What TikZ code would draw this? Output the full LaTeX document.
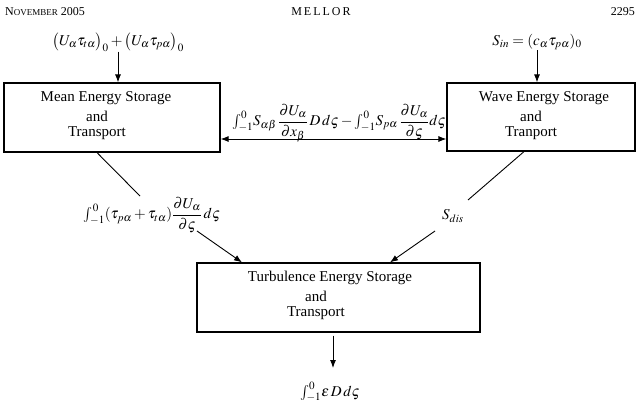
\documentclass[tikz,border=0pt]{standalone}
\usepackage{mathptmx}
\usepackage{fontspec}
\setmainfont{Liberation Serif}
\usetikzlibrary{arrows.meta}
\tikzset{
  box/.style={draw, line width=1.2pt, rectangle, inner sep=0pt},
  txt/.style={inner sep=0pt, font=\fontsize{15}{17}\selectfont},
  hdr/.style={inner sep=0pt, font=\fontsize{12}{14}\selectfont},
  mth/.style={inner sep=0pt, font=\fontsize{15}{17}\selectfont},
  conn/.style={line width=0.9pt},
  arr/.style={line width=0.9pt, -{Latex[length=8pt,width=6pt]}},
  darr/.style={line width=0.9pt, {Latex[length=8pt,width=6pt]}-{Latex[length=8pt,width=6pt]}}
}
\begin{document}
\begin{tikzpicture}[x=1pt,y=-1pt]
\useasboundingbox (0,0) rectangle (638,407);
% header
\node[hdr, anchor=west] (hl) at (5,12) {N{\fontsize{9}{10}\selectfont OVEMBER} 2005};
\node[hdr] (hc) at (321,12) {M\,E\,L\,L\,O\,R};
\node[hdr, anchor=east] (hr) at (635,12) {2295};
% boxes
\node[box, minimum width=216pt, minimum height=69pt] (mean) at (112,117.5) {};
\node[box, minimum width=188pt, minimum height=68pt] (wave) at (541,117) {};
\node[box, minimum width=283pt, minimum height=69pt] (turb) at (338.5,297.5) {};
% box texts
\node[txt] (m1) at (106,98) {Mean Energy Storage};
\node[txt] (m2) at (97,116) {and};
\node[txt] (m3) at (97,133) {Transport};
\node[txt] (w1) at (544,98) {Wave Energy Storage};
\node[txt] (w2) at (531,116) {and};
\node[txt] (w3) at (531,133) {Tranport};
\node[txt] (t1) at (330,278) {Turbulence Energy Storage};
\node[txt] (t2) at (316,296) {and};
\node[txt] (t3) at (316,313) {Transport};
% formulas
\node[mth] (f1) at (118,42) {$\bigl(U_\alpha\tau_{t\alpha}\bigr)_0+\bigl(U_\alpha\tau_{p\alpha}\bigr)_0$};
\node[mth] (f2) at (537,42) {$S_{in}=(c_\alpha\tau_{p\alpha})_0$};
\node[mth] (f3) at (339,123) {$\displaystyle{\textstyle\int_{-1}^{0}}S_{\alpha\beta}\,\frac{\partial U_\alpha}{\partial x_\beta}\,D\,d\varsigma-{\textstyle\int_{-1}^{0}}S_{p\alpha}\,\frac{\partial U_\alpha}{\partial\varsigma}d\varsigma$};
\node[mth] (f4) at (152,215) {$\displaystyle{\textstyle\int_{-1}^{0}}(\tau_{p\alpha}+\tau_{t\alpha})\frac{\partial U_\alpha}{\partial\varsigma}\,d\varsigma$};
\node[mth] (f5) at (453,216) {$S_{dis}$};
\node[mth] (f6) at (330,392) {${\textstyle\int_{-1}^{0}}\varepsilon\,D\,d\varsigma$};
% coordinates
\coordinate (h) at (0,139);
\coordinate (l1) at (140,196);
\coordinate (l2) at (197,231);
\coordinate (r1) at (468,200);
\coordinate (r2) at (435,231);
\coordinate (b) at (333,368);
% connectors
\draw[arr] (f1.south) -- (f1.south |- mean.north);
\draw[arr] (f2.south) -- (f2.south |- wave.north);
\draw[darr] (mean.east |- h) -- (wave.west |- h);
\draw[conn] ([xshift=-15pt]mean.south) -- (l1);
\draw[arr] (l2) -- ([xshift=-96.5pt]turb.north);
\draw[conn] ([xshift=-17pt]wave.south) -- (r1);
\draw[arr] (r2) -- ([xshift=51.5pt]turb.north);
\draw[arr, shorten <=3pt] (turb.south -| b) -- (b);
\end{tikzpicture}
\end{document}
